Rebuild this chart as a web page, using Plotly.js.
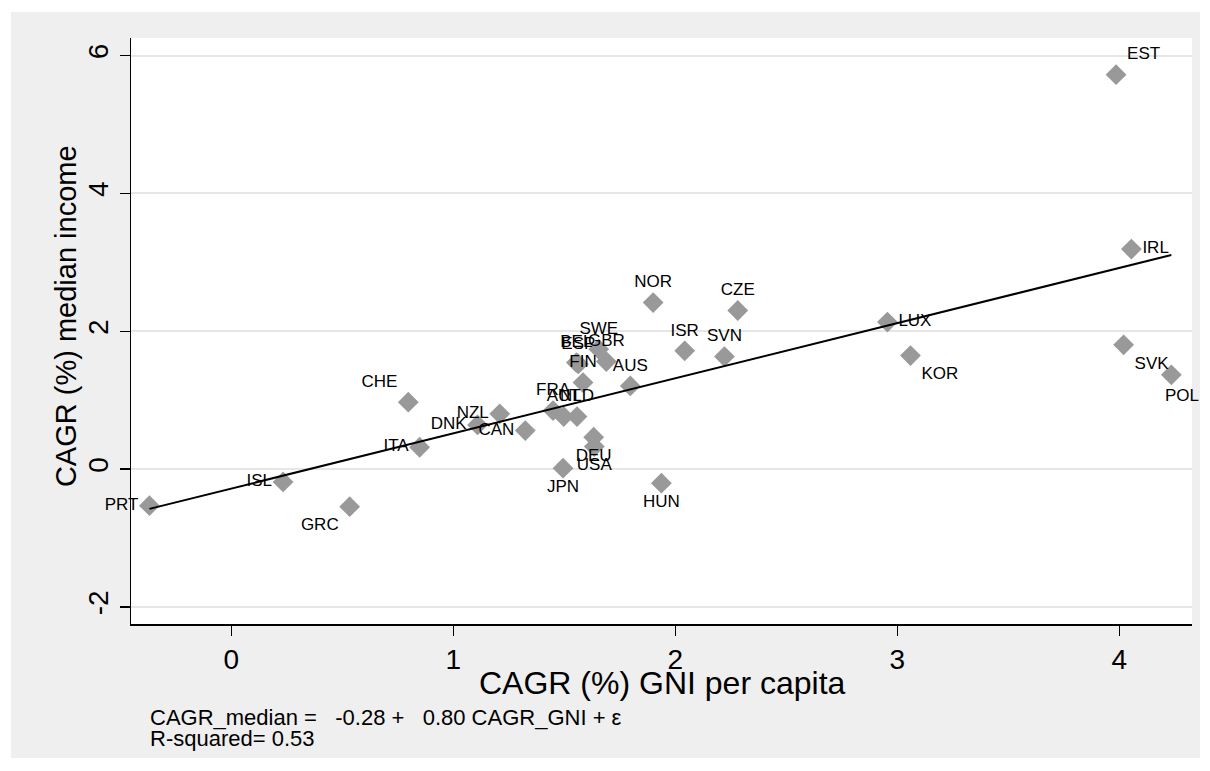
<!DOCTYPE html>
<html>
<head>
<meta charset="utf-8">
<script src="https://cdn.plot.ly/plotly-3.0.1.min.js"></script>
<style>
  html, body { margin: 0; padding: 0; background: #ffffff; width: 1210px; height: 771px; overflow: hidden; }
  #chart { position: absolute; left: 11px; top: 12px; width: 1189px; height: 746px; }
</style>
</head>
<body>
<div id="chart"></div>
<script>
// Country codes
const countries = ["PRT","ISL","GRC","CHE","ITA","DNK","NZL","CAN","FRA","AUT","NLD","JPN","DEU","USA",
  "BEL","ESP","FIN","SWE","GBR","AUS","NOR","HUN","ISR","SVN","CZE","LUX","KOR","EST","IRL","SVK","POL"];
// CAGR (%) GNI per capita
const cagrGNI = [-0.369, 0.233, 0.533, 0.797, 0.848, 1.109, 1.209, 1.324, 1.449, 1.497, 1.557, 1.494, 1.632, 1.635,
  1.554, 1.563, 1.584, 1.655, 1.689, 1.797, 1.900, 1.937, 2.042, 2.221, 2.281, 2.955, 3.059, 3.985, 4.054, 4.019, 4.234];
// CAGR (%) median income
const cagrMedian = [-0.528, -0.184, -0.543, 0.972, 0.319, 0.643, 0.803, 0.560, 0.851, 0.763, 0.763, 0.015, 0.464, 0.328,
  1.547, 1.528, 1.257, 1.742, 1.562, 1.209, 2.418, -0.203, 1.717, 1.634, 2.302, 2.134, 1.649, 5.723, 3.193, 1.804, 1.369];
// Regression coefficients (from the chart note)
const intercept = -0.28;
const slope = 0.80;
const rSquared = 0.53;
const xTicks = [0, 1, 2, 3, 4];
const yTicks = [-2, 0, 2, 4, 6];
const xTitle = "CAGR (%) GNI per capita";
const yTitle = "CAGR (%) median income";

// label placement (style)
const labelPos = {
  PRT: "middle left", ISL: "middle left", GRC: "bottom left", CHE: "top left", ITA: "middle left",
  DNK: "middle left", NZL: "middle left", CAN: "middle left", FRA: "top center", AUT: "top center",
  NLD: "top center", JPN: "bottom center", DEU: "bottom center", USA: "bottom center",
  BEL: "top center", ESP: "top center", FIN: "top center", SWE: "top center", GBR: "top center",
  AUS: "top center", NOR: "top center", HUN: "bottom center", ISR: "top center", SVN: "top center",
  CZE: "top center", LUX: "middle right", KOR: "bottom right", EST: "top right", IRL: "middle right",
  SVK: "bottom right", POL: "annot"
};

const xMin = Math.min(...cagrGNI);
const xMax = Math.max(...cagrGNI);

const fontFam = "Liberation Sans, Arial, sans-serif";
const labelFont = { family: fontFam, size: 17, color: "#000000" };

const traces = [
  {
    type: "scatter",
    mode: "markers+text",
    x: cagrGNI,
    y: cagrMedian,
    text: countries.map(c => labelPos[c] === "annot" ? "" : c),
    textposition: countries.map(c => labelPos[c] === "annot" ? "middle center" : labelPos[c]),
    textfont: labelFont,
    marker: { symbol: "diamond", size: 16, color: "#999999", line: { width: 0 } },
    cliponaxis: false,
    hoverinfo: "skip",
    showlegend: false
  },
  {
    type: "scatter",
    mode: "lines",
    x: [xMin, xMax],
    y: [intercept + slope * xMin, intercept + slope * xMax],
    line: { color: "#000000", width: 2 },
    hoverinfo: "skip",
    showlegend: false
  }
];

const nb = "\u00a0";
const eqLine = "CAGR_median =" + nb + nb + nb + (intercept < 0 ? "-" : "") + Math.abs(intercept).toFixed(2) +
  " +" + nb + nb + nb + slope.toFixed(2) + " CAGR_GNI + ε";
const r2Line = "R-squared= " + rSquared.toFixed(2);

const annotations = [
  {
    xref: "paper", yref: "paper", x: 0.5008, y: -0.1007,
    xanchor: "center", yanchor: "middle", showarrow: false,
    text: xTitle, font: { family: fontFam, size: 32, color: "#000000" }
  },
  {
    xref: "paper", yref: "paper", x: -0.0619, y: 0.526,
    xanchor: "center", yanchor: "middle", showarrow: false, textangle: -90,
    text: yTitle, font: { family: fontFam, size: 29, color: "#000000" }
  },
  {
    xref: "paper", yref: "paper", x: 0.0163, y: -0.159,
    xanchor: "left", yanchor: "middle", align: "left", showarrow: false,
    text: eqLine, font: { family: fontFam, size: 22, color: "#000000" }
  },
  {
    xref: "paper", yref: "paper", x: 0.0163, y: -0.196,
    xanchor: "left", yanchor: "middle", align: "left", showarrow: false,
    text: r2Line, font: { family: fontFam, size: 22, color: "#000000" }
  }
];

// labels drawn as annotations (to keep them inside the picture)
countries.forEach((c, i) => {
  if (labelPos[c] === "annot") {
    annotations.push({
      xref: "x", yref: "y", x: cagrGNI[i], y: cagrMedian[i],
      xanchor: "center", yanchor: "top", xshift: 11, yshift: -9,
      showarrow: false, text: c, font: labelFont
    });
  }
});

const layout = {
  width: 1189,
  height: 746,
  paper_bgcolor: "#efefef",
  plot_bgcolor: "#ffffff",
  margin: { l: 120, r: 8, t: 26, b: 134 },
  font: { family: fontFam, color: "#000000" },
  showlegend: false,
  xaxis: {
    range: [-0.452, 4.327],
    tickvals: xTicks,
    ticktext: xTicks.map(String),
    showgrid: false,
    zeroline: false,
    showline: true,
    linecolor: "#000000",
    linewidth: 1.5,
    ticks: "outside",
    ticklen: 10,
    tickwidth: 1.5,
    tickcolor: "#000000",
    tickfont: { family: fontFam, size: 28, color: "#000000" }
  },
  yaxis: {
    range: [-2.245, 6.255],
    tickvals: yTicks,
    ticktext: yTicks.map(String),
    tickangle: -90,
    showgrid: true,
    gridcolor: "#e6e6e6",
    gridwidth: 2,
    zeroline: false,
    showline: true,
    linecolor: "#000000",
    linewidth: 1.5,
    ticks: "outside",
    ticklen: 10,
    tickwidth: 1.5,
    tickcolor: "#000000",
    tickfont: { family: fontFam, size: 28, color: "#000000" }
  },
  annotations: annotations
};

Plotly.newPlot("chart", traces, layout, { displayModeBar: false, staticPlot: true });
</script>
</body>
</html>
